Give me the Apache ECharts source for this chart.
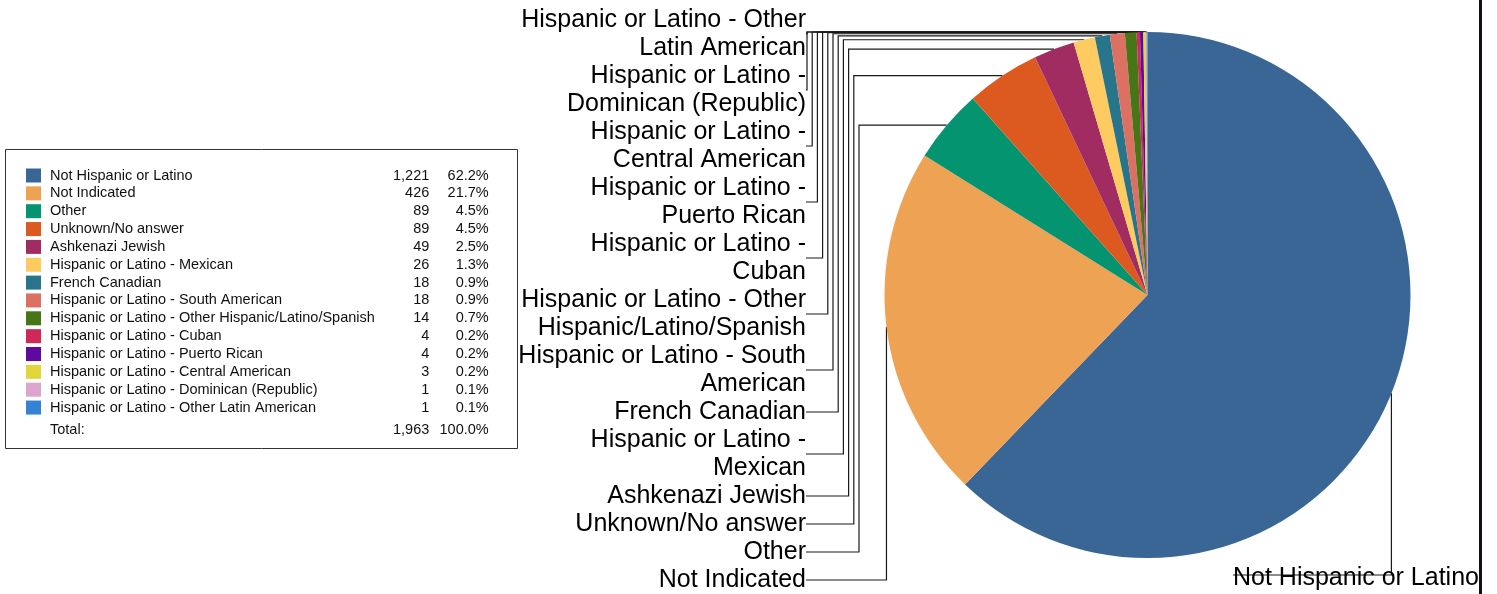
<!DOCTYPE html>
<html>
<head>
<meta charset="utf-8">
<script src="https://cdn.jsdelivr.net/npm/echarts@6/dist/echarts.min.js"></script>
<style>
html,body{margin:0;padding:0;background:#fff;}
#wrap{position:relative;width:1497px;height:594px;overflow:hidden;background:#fff;}
#chart{position:absolute;left:0;top:0;width:1478px;height:594px;}
#bar{position:absolute;left:1478.5px;top:0;width:3px;height:594px;background:#111;}
</style>
</head>
<body>
<div id="wrap"><div id="chart"></div><div id="bar"></div></div>
<script>
const categories = [
  'Not Hispanic or Latino',
  'Not Indicated',
  'Other',
  'Unknown/No answer',
  'Ashkenazi Jewish',
  'Hispanic or Latino - Mexican',
  'French Canadian',
  'Hispanic or Latino - South American',
  'Hispanic or Latino - Other Hispanic/Latino/Spanish',
  'Hispanic or Latino - Cuban',
  'Hispanic or Latino - Puerto Rican',
  'Hispanic or Latino - Central American',
  'Hispanic or Latino - Dominican (Republic)',
  'Hispanic or Latino - Other Latin American'
];
const counts = [1221, 426, 89, 89, 49, 26, 18, 18, 14, 4, 4, 3, 1, 1];
const colors = [
  '#3a6696', '#eea253', '#049470', '#dc5920', '#a02c62', '#fdcb60', '#28748a',
  '#dc7062', '#467616', '#d02858', '#5e0aa0', '#e3d63a', '#dba6c9', '#3581d2'
];
const totalLabel = 'Total:';

const FONT = '"Liberation Sans", Arial, Helvetica, sans-serif';
const PIE_CX = 1147.5, PIE_CY = 295, PIE_R = 263;
const LABEL_FONT_SIZE = 25, LABEL_LINE_H = 28, WRAP_W = 292;

const total = counts.reduce((a, b) => a + b, 0);
const fmtCount = v => v.toLocaleString('en-US');
const fmtPct = v => (v / total * 100).toFixed(1) + '%';

// greedy word wrap without trailing spaces
const measureCtx = document.createElement('canvas').getContext('2d');
measureCtx.font = LABEL_FONT_SIZE + 'px ' + FONT;
function wrapLabel(text) {
  const words = text.split(' ');
  const lines = [];
  let cur = '';
  words.forEach(w => {
    const test = cur ? cur + ' ' + w : w;
    if (cur && measureCtx.measureText(test).width > WRAP_W) {
      lines.push(cur);
      cur = w;
    } else {
      cur = test;
    }
  });
  if (cur) lines.push(cur);
  return lines.join('\n');
}

const labelH = [];
function labelLayout(params) {
  const i = params.dataIndex;
  const pts = params.labelLinePoints;
  const p0 = pts && pts[0];
  if (!p0) return {};
  if (i === 0) {
    const ly = 575;
    return {
      x: 1233, y: 578, align: 'left', verticalAlign: 'middle',
      labelLinePoints: [[p0[0], p0[1]], [p0[0], ly], [1233, ly]]
    };
  }
  labelH[i] = params.labelRect.height;
  let bottom = 594;
  for (let k = 1; k < i; k++) bottom -= (labelH[k] || LABEL_LINE_H);
  const cy = bottom - labelH[i] / 2;
  const rank = categories.length - 1 - i;
  let vx = 807 + 5.2 * Math.max(rank - 1, 0);
  if (p0[1] > PIE_CY) vx = p0[0];
  return {
    x: 806, y: cy, align: 'right', verticalAlign: 'middle',
    labelLinePoints: [[806, cy], [vx, cy], [vx, p0[1]], [p0[0], p0[1]]]
  };
}

const chart = echarts.init(document.getElementById('chart'), null, {renderer: 'canvas'});
chart.setOption({
  animation: false,
  color: colors,
  textStyle: {fontFamily: FONT},
  legend: {
    orient: 'vertical',
    left: 26,
    top: 168,
    icon: 'rect',
    itemWidth: 15,
    itemHeight: 14,
    itemGap: 2.85,
    selectedMode: false,
    padding: 0,
    data: categories,
    formatter: function (name) {
      const idx = categories.indexOf(name);
      return '{n|' + name + '}{v|' + fmtCount(counts[idx]) + '}{p|' + fmtPct(counts[idx]) + '}';
    },
    textStyle: {
      fontFamily: FONT, fontSize: 14.5, color: '#111', lineHeight: 14,
      rich: {
        n: {width: 325.3, padding: [0, 0, 0, 4], fontFamily: FONT, fontSize: 14.5, color: '#111', lineHeight: 14},
        v: {width: 54, align: 'right', fontFamily: FONT, fontSize: 14.5, color: '#111', lineHeight: 14},
        p: {width: 59.4, align: 'right', fontFamily: FONT, fontSize: 14.5, color: '#111', lineHeight: 14}
      }
    }
  },
  graphic: [
    {type: 'rect', shape: {x: 5.5, y: 149.5, width: 512, height: 299},
     style: {fill: 'none', stroke: '#333', lineWidth: 1}, z: 0},
    {type: 'text', x: 50, y: 430,
     style: {text: totalLabel, font: '14.5px ' + FONT, fill: '#111', align: 'left', verticalAlign: 'middle'}},
    {type: 'text', x: 429.3, y: 430,
     style: {text: fmtCount(total), font: '14.5px ' + FONT, fill: '#111', align: 'right', verticalAlign: 'middle'}},
    {type: 'text', x: 488.7, y: 430,
     style: {text: fmtPct(total), font: '14.5px ' + FONT, fill: '#111', align: 'right', verticalAlign: 'middle'}}
  ],
  series: [{
    type: 'pie',
    center: [PIE_CX, PIE_CY],
    radius: PIE_R,
    startAngle: 90,
    clockwise: true,
    avoidLabelOverlap: false,
    data: categories.map((c, i) => ({name: c, value: counts[i]})),
    itemStyle: {borderWidth: 0},
    emphasis: {disabled: true},
    label: {
      show: true,
      position: 'outer',
      formatter: p => wrapLabel(p.name),
      fontFamily: FONT,
      fontSize: LABEL_FONT_SIZE,
      lineHeight: LABEL_LINE_H,
      color: '#000'
    },
    labelLine: {
      show: true,
      length: 10,
      length2: 10,
      smooth: false,
      lineStyle: {color: '#1a1a1a', width: 1.2}
    },
    labelLayout: labelLayout
  }]
});
</script>
</body>
</html>
